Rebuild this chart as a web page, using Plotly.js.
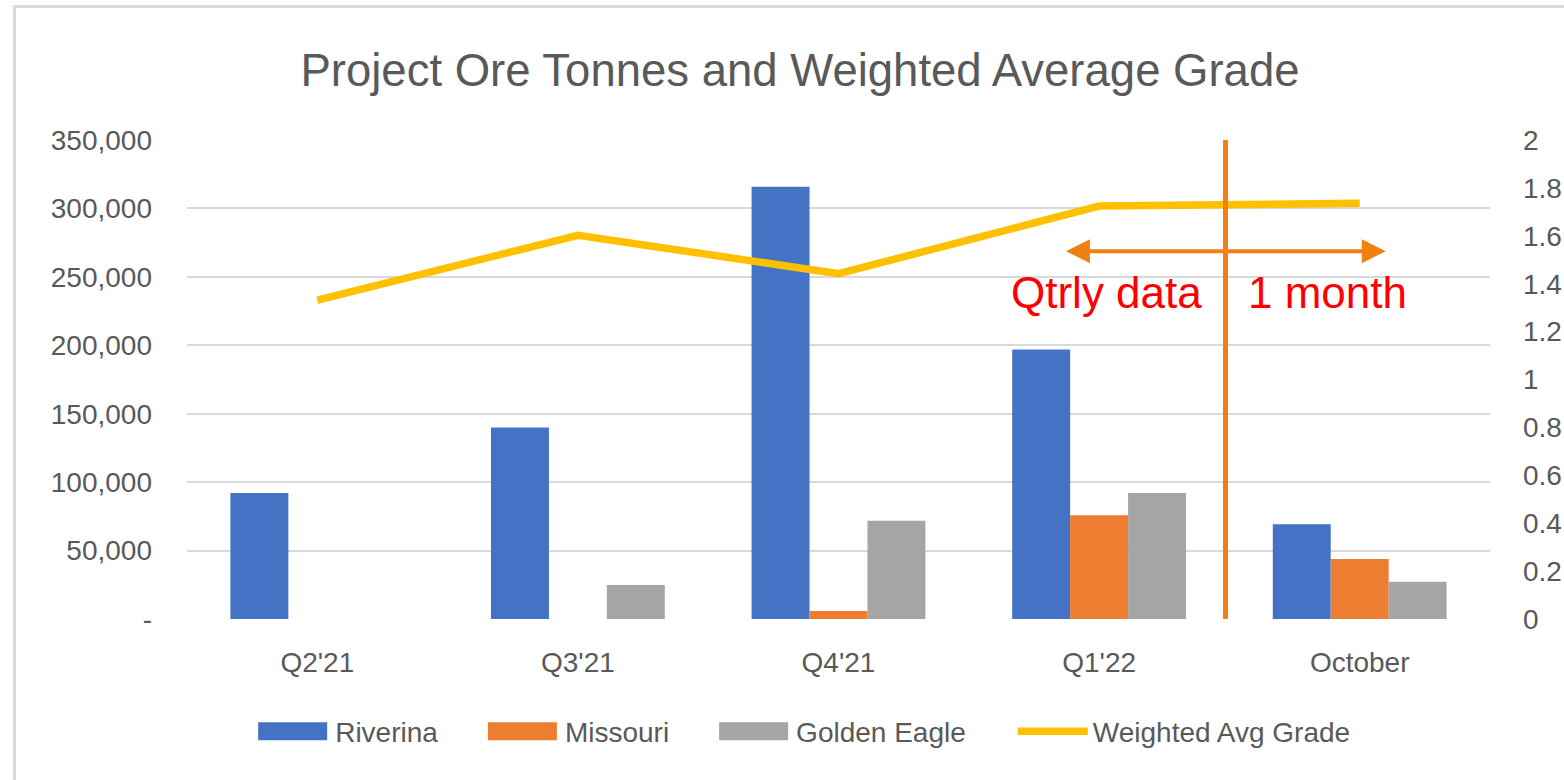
<!DOCTYPE html>
<html>
<head>
<meta charset="utf-8">
<script src="https://cdn.plot.ly/plotly-3.0.1.min.js"></script>
<style>
  html, body { margin: 0; padding: 0; background: #ffffff; }
  #chart { position: absolute; left: 0; top: 0; width: 1564px; height: 780px; }
  #frame { position: absolute; left: 13px; top: 5px; width: 1700px; height: 900px;
           border-left: 3px solid #d9d9d9; border-top: 3px solid #d9d9d9; pointer-events: none; }
</style>
</head>
<body>
<div id="chart"></div>
<div id="frame"></div>
<script>
const categories = ["Q2'21", "Q3'21", "Q4'21", "Q1'22", "October"];
const riverina = [92000, 140000, 315800, 197000, 69300];
const missouri = [null, null, 5900, 75900, 43900];
const goldenEagle = [null, 24900, 71800, 92000, 27300];
const weightedAvgGrade = [1.331, 1.602, 1.442, 1.724, 1.736];
const leftTickVals = [0, 50000, 100000, 150000, 200000, 250000, 300000, 350000];
const leftTickText = ["-", "50,000", "100,000", "150,000", "200,000", "250,000", "300,000", "350,000"];

const FONT = "Liberation Sans, Arial, sans-serif";
const GREY = "#595959";

const traces = [
  { type: "bar", name: "Riverina", x: categories, y: riverina, marker: { color: "#4472C4" } },
  { type: "bar", name: "Missouri", x: categories, y: missouri, marker: { color: "#ED7D31" } },
  { type: "bar", name: "Golden Eagle", x: categories, y: goldenEagle, marker: { color: "#A5A5A5" } },
  { type: "scatter", mode: "lines", name: "Weighted Avg Grade", x: categories, y: weightedAvgGrade,
    yaxis: "y2", line: { color: "#FFC000", width: 7.5 } }
];

const layout = {
  width: 1564, height: 780,
  margin: { l: 187, r: 74, t: 140, b: 161 },
  paper_bgcolor: "rgba(0,0,0,0)", plot_bgcolor: "rgba(0,0,0,0)",
  font: { family: FONT, color: GREY, size: 28 },
  title: { text: "Project Ore Tonnes and Weighted Average Grade", font: { family: FONT, size: 45.5, color: GREY },
           xref: "container", x: 0.5115, xanchor: "center", yref: "container", y: 0.91, yanchor: "middle" },
  barmode: "group", bargap: 0.333, bargroupgap: 0,
  xaxis: { type: "category", showgrid: false, showline: false, zeroline: false, ticks: "",
           tickfont: { size: 28, color: GREY, family: FONT }, ticklabelstandoff: 24 },
  yaxis: { range: [0, 350000], tickvals: leftTickVals, ticktext: leftTickText, showgrid: true,
           gridcolor: "#d9d9d9", gridwidth: 2, zeroline: false, showline: false, ticks: "",
           tickfont: { size: 28, color: GREY, family: FONT }, ticklabelstandoff: 34 },
  yaxis2: { overlaying: "y", side: "right", range: [0, 2], dtick: 0.2, showgrid: false, zeroline: false,
            showline: false, ticks: "", tickfont: { size: 28, color: GREY, family: FONT }, ticklabelstandoff: 32 },
  showlegend: true,
  legend: { orientation: "h", xref: "container", x: 0.515, xanchor: "center", yref: "container", y: 0.062,
            yanchor: "middle", font: { size: 28, color: GREY, family: FONT }, itemwidth: 70, traceorder: "normal" },
  shapes: [
    { type: "line", xref: "x", yref: "paper", x0: 3.485, x1: 3.485, y0: 0, y1: 1,
      line: { color: "#F08010", width: 5 } }
  ],
  annotations: [
    { xref: "x", yref: "y2", axref: "x", ayref: "y2", x: 4.1, y: 1.536, ax: 2.867, ay: 1.536, text: "",
      showarrow: true, arrowside: "end+start", arrowhead: 2, arrowsize: 1.2, arrowwidth: 4, arrowcolor: "#F08010" },
    { xref: "x", yref: "y2", x: 3.03, y: 1.362, text: "Qtrly data", showarrow: false,
      font: { family: FONT, size: 44, color: "#FF0000" }, xanchor: "center", yanchor: "middle" },
    { xref: "x", yref: "y2", x: 3.876, y: 1.362, text: "1 month", showarrow: false,
      font: { family: FONT, size: 44, color: "#FF0000" }, xanchor: "center", yanchor: "middle" }
  ]
};

Plotly.newPlot("chart", traces, layout, { staticPlot: true, displayModeBar: false }).then(function (gd) {
  const items = Array.from(gd.querySelectorAll(".legend .traces"));
  const SW = 69, GAP_SW_TXT = 8, GAP_ITEM = 50;
  // restyle swatches
  const info = items.map(function (item, i) {
    const txt = item.querySelector("text.legendtext");
    const tx = txt ? parseFloat(txt.getAttribute("x")) : 80;
    const tw = txt ? txt.getComputedTextLength() : 100;
    const x1 = tx - GAP_SW_TXT, x0 = x1 - SW;
    const pts = item.querySelector(".legendpoints");
    if (pts) {
      pts.querySelectorAll("path").forEach(function (p) {
        p.removeAttribute("transform");
        const g = p.parentNode;
        if (g && g.getAttribute("transform")) g.removeAttribute("transform");
        if (i < 3) {
          p.setAttribute("d", "M" + x0 + ",-9H" + x1 + "V9H" + x0 + "Z");
        } else {
          p.setAttribute("d", "M" + (x0 + 4) + ",0H" + (x1 - 4));
          p.style.strokeLinecap = "round";
        }
      });
    }
    const m = /translate\(\s*([-\d.]+)[ ,]+([-\d.]+)/.exec(item.getAttribute("transform") || "");
    return { item: item, x0: x0, end: tx + tw, ty: m ? parseFloat(m[2]) : 0, ox: m ? parseFloat(m[1]) : 0 };
  });
  if (!info.length) return;
  // re-space items: next swatch starts GAP_ITEM after previous text end
  let pos = [];
  let cur = info[0].ox;
  info.forEach(function (d, i) {
    if (i > 0) {
      const prev = info[i - 1];
      cur = pos[i - 1] + prev.end + GAP_ITEM - d.x0;
    }
    pos.push(cur);
  });
  const oldSpan0 = info[0].ox + info[0].x0, oldSpan1 = info[info.length - 1].ox + info[info.length - 1].end;
  const newSpan0 = pos[0] + info[0].x0, newSpan1 = pos[pos.length - 1] + info[info.length - 1].end;
  const shift = (oldSpan0 + oldSpan1) / 2 - (newSpan0 + newSpan1) / 2;
  info.forEach(function (d, i) {
    d.item.setAttribute("transform", "translate(" + (pos[i] + shift) + "," + d.ty + ")");
  });
  const bg = gd.querySelector(".legend .bg");
  if (bg) bg.style.display = "none";
  const clip = gd.querySelector(".legend .scrollbox");
  if (clip) clip.removeAttribute("clip-path");
});
</script>
</body>
</html>
